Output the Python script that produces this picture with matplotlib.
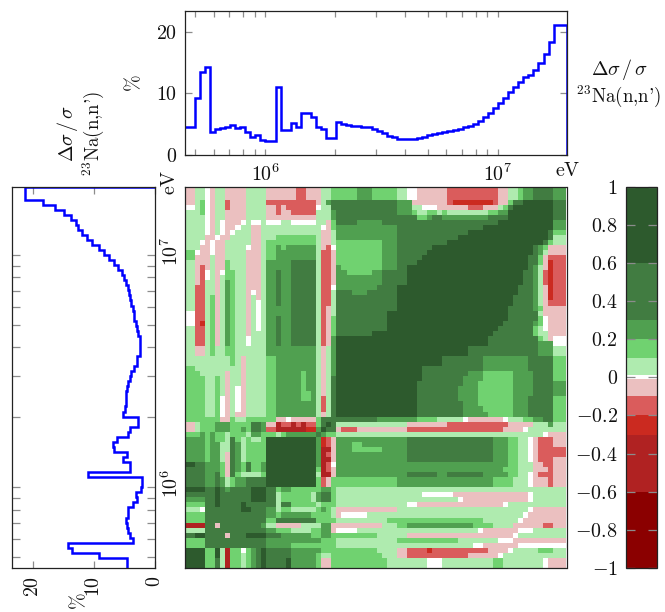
"""
Covariance matrix of 23Na(n,n') with the relative uncertainty on both sides.
"""

import numpy as np
import matplotlib
matplotlib.use("Agg")
import matplotlib.pyplot as plt
from matplotlib.colors import BoundaryNorm, ListedColormap
from matplotlib.ticker import NullFormatter
from matplotlib.transforms import ScaledTranslation

plt.rcParams['mathtext.fontset'] = 'cm'
plt.rcParams['font.family'] = ['cmr10', 'DejaVu Sans']
plt.rcParams['axes.formatter.use_mathtext'] = True

W, H = 665, 612
E_MIN, E_MAX = 4.5e5, 1.97e7
N_GROUPS = 76
PCT_MAX = 23.4

# relative uncertainty per energy group (%)
uncertainty = [
    4.6, 4.6, 9.25, 13.5, 14.3, 3.7, 4.2, 4.4, 4.6, 4.8,
    4.4, 4.5, 3.7, 3.0, 3.2, 2.4, 2.2, 2.2, 11.0, 4.1,
    4.1, 5.2, 4.6, 6.8, 6.9, 6.2, 4.5, 4.2, 2.8, 2.75,
    5.3, 5.0, 4.8, 4.75, 4.7, 4.6, 4.5, 4.2, 3.95, 3.5,
    3.05, 3.0, 2.55, 2.55, 2.55, 2.55, 2.8, 3.0, 3.2, 3.4,
    3.5, 3.7, 3.9, 4.05, 4.25, 4.5, 4.75, 5.1, 5.5, 6.1,
    6.8, 7.6, 8.4, 9.2, 10.3, 11.1, 11.9, 12.6, 13.0, 13.8,
    14.9, 16.4, 18.3, 21.2, 21.2, 21.2,
]

# colour classes of the correlation scale
level_bounds = [-1, -0.6, -0.3, -0.2, -0.1, -0.01, 0.01, 0.1, 0.2, 0.3, 0.6, 1]
level_colors = ['#8b0000', '#b02222', '#cb2a20', '#da5c5c', '#ebc0c0', '#ffffff',
                '#afebaf', '#70d270', '#50a050', '#417c41', '#2d5a2d']
level_values = {'a': 0.8, 'b': 0.45, 'c': 0.25, 'd': 0.15, 'e': 0.05, 'f': 0.0,
                'g': -0.05, 'h': -0.15, 'i': -0.25, 'j': -0.45, 'k': -0.8}

cbar_ticks = [-1, -0.8, -0.6, -0.4, -0.2, 0, 0.2, 0.4, 0.6, 0.8, 1]
cbar_labels = ['$-1$', '$-0.8$', '$-0.6$', '$-0.4$', '$-0.2$', '$0$',
               '$0.2$', '$0.4$', '$0.6$', '$0.8$', '$1$']

# correlation, one line per group from the lowest energy.
# The matrix is symmetric, only cells right of the diagonal are used.
# "b16" = class b up to column 16 (exclusive)
correlation_rows = [
    "a4 d6 b7 e8 j9 d11 e12 d13 c14 b15 a16 b20 a21 c26 d27 g29 d40 e48 f51 e61 d63 e71 f72 g76",
    "a4 d6 b7 e8 j9 d11 e12 d13 c14 b15 a16 b20 a21 c26 d27 g29 d40 e48 f51 e61 d63 e71 f72 g76",
    "a4 d6 a7 e8 j9 d11 e12 d13 c14 b15 a16 b21 c26 d27 e29 d39 e42 g44 h56 g62 f63 e76",
    "a4 d6 a7 e8 j9 d11 f12 d13 c14 b15 a16 b21 c27 d38 e42 g44 h48 i49 h60 g64 f65 e70 d73 e76",
    "b16 c21 d30 e57 f59 g66 f76",
    "b16 c27 d30 e42 d54 e62 f65 g76",
    "b8 g9 b12 a16 b19 c25 d27 c29 d38 e44 g65 f66 e76",
    "b16 c18 d21 e25 d27 c29 g30 f34 e58 f59 g66 f69 e76",
    "b15 c16 e18 g23 e27 c29 g39 e42 d44 c57 d61 e65 g71 h73 g76",
    "b16 d18 b26 d30 e40 d59 e66 f67 g76",
    "b16 c18 d19 c25 d29 e30 g31 f36 e67 f68 g76",
    "a13 b16 c18 e19 d21 e26 d27 c28 d29 e30 g42 e68 f69 g76",
    "b18 e19 b21 d26 e27 d30 e44 f46 g63 f64 e76",
    "a16 b18 e19 d25 e26 c27 b29 d30 e54 f55 g68 f69 e76",
    "a16 b18 e19 d25 e26 c27 b29 d30 e47 f53 g68 f69 e76",
    "a16 b18 d19 c21 d27 c29 d30 e76",
    "a26 d27 h28 g29 d42 c61 d65 e68 f69 g72 h73 g76",
    "a26 d27 h28 g29 d42 c61 d65 e68 f69 g72 h73 g76",
    "a26 e27 j29 g30 c44 b50 c52 b59 c64 d66 e68 f69 g70 h73 g76",
    "a26 d27 j28 h29 g30 c63 d66 e69 g72 h73 g76",
    "a26 c27 j28 h29 f30 c64 d66 e69 g71 h73 g76",
    "a26 c27 j29 g30 c44 b61 c64 d66 e68 f69 g70 h73 g76",
    "a26 c27 j28 h29 g30 c44 b61 c64 d66 e68 f69 g70 h76",
    "a26 c27 j29 g30 c33 d39 c44 b61 c64 d66 e68 f69 g70 h76",
    "a26 c27 i28 h29 g30 c33 d35 c44 b61 c64 d66 e68 f69 g70 h73 g76",
    "a26 c27 i28 h29 g30 c44 b61 c64 d66 e68 f69 g70 h73 g76",
    "b27 c28 d30 e71 f72 g76",
    "a28 b30 g31 h34 g44 h63 g67 f68 e76",
    "a29 b30 e44 g52 h64 g69 e72 c73 e76",
    "b38 c46 d50 e55 f56 g63 f64 e67 d69 c71 b73 d76",
    "a46 b55 c60 d65 c68 b73 d76",
    "a46 b55 c59 d65 c68 b73 d76",
    "a46 b55 c58 d65 c68 b73 d76",
    "a46 b54 c58 d65 c68 b73 d76",
    "a46 b54 c58 d65 c69 b73 c76",
    "a46 b54 c58 d65 c69 b73 c76",
    "a46 b55 c58 d65 c69 b73 c76",
    "a47 b55 c59 d65 c69 b73 d76",
    "a47 b56 c59 d65 c69 b73 d76",
    "a47 b59 c68 b73 d76",
    "a51 b59 c68 b73 d76",
    "a51 b59 c68 b73 d76",
    "a56 b70 c73 e76",
    "a56 b70 c73 e76",
    "a60 b70 c73 f76",
    "a60 b70 d71 e72 g73 f76",
    "a61 b69 d70 e72 g76",
    "a62 b69 d70 e71 f72 g76",
    "a63 b69 c70 d71 f72 g76",
    "a64 b70 d71 f72 g76",
    "a64 b70 e71 g76",
    "a64 b69 c70 d71 g76",
    "a65 b69 c70 e71 g72 h76",
    "a65 b69 c70 e71 g72 i73 h76",
    "a66 b69 c70 e71 g72 i73 h76",
    "a66 b69 c70 e71 g72 i73 h76",
    "a67 b69 c70 e71 h72 i73 h76",
    "a67 b69 c70 e71 h72 i73 h76",
    "a67 b69 c70 e71 h72 i73 h76",
    "a68 b69 c70 e71 g72 i73 h76",
    "a68 b70 d71 g72 i73 h76",
    "a68 b70 d71 g72 h76",
    "a69 b70 c71 e72 g76",
    "a69 b70 c71 d72 g76",
    "a71 b72 d73 e76",
    "a72 b73 e76",
    "a72 b73 d76",
    "a73 c76",
    "a73 c76",
    "a73 b76",
    "a73 b76",
    "a73 b76",
    "a73 b76",
    "c76",
    "c76",
    "c76",
]


def expand_row(spec):
    """Turns a line of correlation_rows into one value per group."""
    row = np.zeros(N_GROUPS)
    start = 0
    for token in spec.split():
        end = int(token[1:])
        row[start:end] = level_values[token[0]]
        start = end
    return row


def build_matrix():
    matrix = np.zeros((N_GROUPS, N_GROUPS))
    for r, spec in enumerate(correlation_rows):
        row = expand_row(spec)
        matrix[r, r:] = row[r:]
        matrix[r:, r] = row[r:]
    return matrix


def axes_px(left, top, right, bottom):
    return [left / W, 1 - bottom / H, (right - left) / W, (bottom - top) / H]


def put_text(fig, x, y, s, **kwargs):
    kwargs.setdefault('ha', 'center')
    kwargs.setdefault('va', 'center')
    fig.text(x / W, 1 - y / H, s, fontsize=kwargs.pop('fontsize', 14.4), color='#111111', **kwargs)


def style_ticks(ax):
    ax.tick_params(which='both', direction='in', color='#8c8c8c', width=0.9,
                   length=4.3, top=True, bottom=True, left=True, right=True,
                   labelsize=14.4, labelcolor='#111111')
    for spine in ax.spines.values():
        spine.set_linewidth(0.9)
        spine.set_color('#222222')


# group edges: constant lethargy width of 0.05, last one cut at the axis end
edges = E_MIN * np.exp(0.05 * np.arange(N_GROUPS + 1))
edges[-1] = E_MAX

# uncertainty outline, falls to zero only at the high energy end
line_e = np.append(np.repeat(edges, 2)[1:-1], edges[-1])
line_u = np.append(np.repeat(uncertainty, 2), 0)

major_e = [1e6, 1e7]
major_e_labels = ['$10^{6}$', '$10^{7}$']
minor_e = [5e5, 6e5, 7e5, 8e5, 9e5, 2e6, 3e6, 4e6, 5e6, 6e6, 7e6, 8e6, 9e6]
pct_ticks = [0, 10, 20]
pct_labels = ['$0$', '$10$', '$20$']

fig = plt.figure(figsize=(W / 100, H / 100), dpi=100)

# matrix
ax_mat = fig.add_axes(axes_px(185, 186.5, 566.5, 568))
cmap = ListedColormap(level_colors)
norm = BoundaryNorm(level_bounds, cmap.N)
mesh = ax_mat.pcolormesh(edges, edges, build_matrix(), cmap=cmap, norm=norm,
                         shading='flat', antialiased=False, linewidth=0)
ax_mat.set_xscale('log')
ax_mat.set_yscale('log')
ax_mat.set_xlim(E_MIN, E_MAX)
ax_mat.set_ylim(E_MIN, E_MAX)
ax_mat.tick_params(which='both', left=False, bottom=False, labelleft=False, labelbottom=False)
for spine in ax_mat.spines.values():
    spine.set_linewidth(0.9)
    spine.set_color('#222222')

# top panel
ax_top = fig.add_axes(axes_px(184.5, 11, 566.7, 155))
ax_top.plot(line_e, line_u, color='#0000ff', lw=1.8, solid_joinstyle='miter')
ax_top.set_xscale('log')
ax_top.set_xlim(E_MIN, E_MAX)
ax_top.set_ylim(0, PCT_MAX)
ax_top.set_xticks(major_e, major_e_labels)
ax_top.set_xticks(minor_e, minor=True)
ax_top.xaxis.set_minor_formatter(NullFormatter())
ax_top.set_yticks(pct_ticks, pct_labels)
style_ticks(ax_top)
ax_top.tick_params(axis='x', pad=6)
ax_top.tick_params(axis='y', which='both', length=5, pad=5)

# left panel, same curve turned by a quarter
ax_left = fig.add_axes(axes_px(11.7, 186.5, 155.3, 568))
ax_left.plot(line_u, line_e, color='#0000ff', lw=1.8, solid_joinstyle='miter')
ax_left.set_yscale('log')
ax_left.set_ylim(E_MIN, E_MAX)
ax_left.set_xlim(PCT_MAX, 0)
ax_left.set_yticks(major_e, major_e_labels, rotation=90, va='center')
ax_left.set_yticks(minor_e, minor=True)
ax_left.yaxis.set_minor_formatter(NullFormatter())
ax_left.set_xticks(pct_ticks, pct_labels, rotation=90)
style_ticks(ax_left)
ax_left.tick_params(axis='y', which='both', labelleft=False, labelright=True, length=5.5, pad=4)
ax_left.tick_params(axis='x', which='both', length=5, pad=6)
for lab in ax_left.get_yticklabels():
    lab.set_transform(lab.get_transform() + ScaledTranslation(0, 4 / 100, fig.dpi_scale_trans))

# colour scale
ax_bar = fig.add_axes(axes_px(626, 186.7, 656.7, 568))
cbar = fig.colorbar(mesh, cax=ax_bar, spacing='proportional', ticks=cbar_ticks)
cbar.set_ticklabels(cbar_labels)
cbar.outline.set_linewidth(0.9)
cbar.outline.set_edgecolor('#222222')
ax_bar.minorticks_off()
ax_bar.tick_params(axis='y', which='major', direction='in', color='#8c8c8c', width=0.9,
                   length=6.5, left=True, right=True, labelleft=True, labelright=False,
                   labelsize=14.4, labelcolor='#111111', pad=6)

# labels
put_text(fig, 568, 171, r'$\mathrm{eV}$')
put_text(fig, 170, 182, r'$\mathrm{eV}$', rotation=90)
put_text(fig, 134, 83, r'$\%$', rotation=90)
put_text(fig, 79, 601, r'$\%$', rotation=90)
put_text(fig, 620, 70, r'$\Delta\sigma\,/\,\sigma$')
put_text(fig, 619, 96, r"$^{23}$Na(n,n')", fontsize=13.6)
put_text(fig, 68, 133, r'$\Delta\sigma\,/\,\sigma$', rotation=90)
put_text(fig, 93, 133, r"$^{23}$Na(n,n')", rotation=90, fontsize=13.6)

fig.savefig('out.png', dpi=100)
plt.close(fig)
